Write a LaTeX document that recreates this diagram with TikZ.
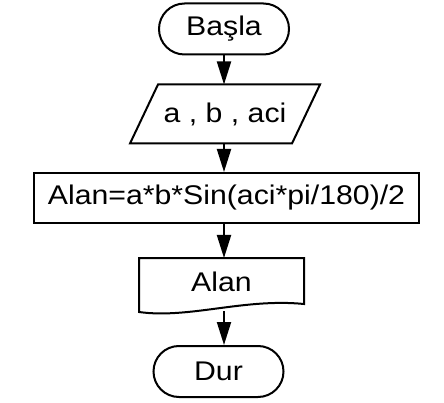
\documentclass[tikz,border=0pt]{standalone}
\usepackage{fontspec}
\setmainfont{Liberation Sans}[FakeStretch=1.12]
\usetikzlibrary{arrows.meta,shapes.misc}

\begin{document}
\begin{tikzpicture}[x=1pt,y=-1pt,line width=2pt,
    every node/.style={font=\fontsize{27}{30}\selectfont},
    terminal/.style={draw, rounded rectangle, minimum width=130pt, minimum height=51pt, inner sep=0pt},
    inputbox/.style={rectangle, minimum width=160pt, minimum height=57pt, inner sep=0pt},
    procbox/.style={draw, rectangle, minimum width=385pt, minimum height=50pt, inner sep=0pt},
    docbox/.style={rectangle, minimum width=163pt, minimum height=46pt, inner sep=0pt},
    flow/.style={-{Triangle[length=23pt,width=14pt]}}]
    % Page size
    \useasboundingbox (0,0) rectangle (444,403);

    % Boxes of the flowchart
    \node[terminal] (basla) at (224,29) {Başla};
    \node[inputbox] (girdi) at (225,114) {a , b , aci};
    \node[procbox] (alan) at (226.5,198) {Alan=a*b*Sin(aci*pi/180)/2};
    \node[docbox] (cikti) at (221.5,282) {Alan};
    \node[terminal] (dur) at (218.5,371.5) {Dur};

    % Slanted input outline
    \draw ([xshift=-14pt]girdi.south west) -- ([xshift=-14pt]girdi.south east)
        -- ([xshift=14pt]girdi.north east) -- ([xshift=14pt]girdi.north west) -- cycle;

    % Document outline with wavy bottom
    \draw (cikti.north west) -- (cikti.north east) -- ++(0,46)
        .. controls ++(-60,-6) and ++(50,7) .. ([yshift=-54pt]cikti.north west) -- cycle;

    % Arrows
    \draw[flow] (basla.south) -- (basla.south |- girdi.north);
    \draw[flow] (basla.south |- girdi.south) -- (basla.south |- alan.north);
    \draw[flow] (basla.south |- alan.south) -- (basla.south |- cikti.north);
    \coordinate (ciktialt) at (224,311);
    \draw[flow] (ciktialt) -- (ciktialt |- dur.north);
\end{tikzpicture}
\end{document}
